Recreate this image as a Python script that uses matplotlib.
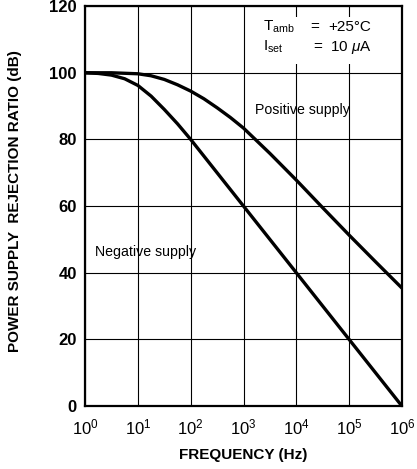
import numpy as np
import matplotlib.pyplot as plt
from matplotlib.patches import Rectangle

plt.rcParams['font.family'] = ['Liberation Sans', 'DejaVu Sans']
plt.rcParams['mathtext.fontset'] = 'custom'
plt.rcParams['mathtext.rm'] = 'Liberation Sans'
plt.rcParams['mathtext.it'] = 'Liberation Sans:italic'

# log10 of frequency (Hz) and PSRR (dB)
neg_logf = [0, 0.25, 0.5, 0.75, 1, 1.25, 1.5, 1.75, 2, 2.5, 3, 3.5, 4, 4.5, 5, 5.5, 6]
neg_psrr = [100, 99.8, 99.3, 98.2, 96.2, 93.0, 89.0, 84.7, 80, 70, 60, 50, 40, 30, 20, 10, 0]

pos_logf = [0, 0.5, 1, 1.25, 1.5, 1.75, 2, 2.25, 2.5, 2.75, 3, 3.5, 4, 4.5, 5, 5.5, 6]
pos_psrr = [100, 100, 99.7, 99.1, 98.0, 96.4, 94.5, 92.2, 89.5, 86.6, 83.4, 75.8, 67.8, 59.5, 51.3, 43.3, 35.4]

y_ticks = [0, 20, 40, 60, 80, 100, 120]
x_ticks = [1e0, 1e1, 1e2, 1e3, 1e4, 1e5, 1e6]

fig = plt.figure(figsize=(4.17, 4.69), dpi=100)
ax = fig.add_axes([0.204, 0.134, 0.76, 0.853])

ax.plot(10 ** np.array(neg_logf), neg_psrr, color='black', lw=2.4, solid_capstyle='butt', zorder=3)
ax.plot(10 ** np.array(pos_logf), pos_psrr, color='black', lw=2.4, solid_capstyle='butt', zorder=3)

ax.set_xscale('log')
ax.set_xlim(1, 1e6)
ax.set_ylim(0, 120)
ax.set_xticks(x_ticks)
ax.set_yticks(y_ticks)
ax.minorticks_off()
ax.set_xticklabels([r'$10^{%d}$' % i for i in range(7)], fontsize=12)
ax.set_yticklabels([str(v) for v in y_ticks], fontsize=12, fontweight='bold')
ax.tick_params(axis='x', length=0, pad=8.5)
ax.tick_params(axis='y', length=0, pad=6)
ax.grid(True, color='black', lw=0.8)
ax.set_axisbelow(True)
for s in ax.spines.values():
    s.set_linewidth(1.6)
    s.set_zorder(4)

# white panel behind the conditions text
ax.add_patch(Rectangle((10 ** 3.27, 102.5), 10 ** 5.97 - 10 ** 3.27, 14.2,
                       facecolor='white', edgecolor='none', zorder=1))

ax.text(10 ** 3.22, 87.6, 'Positive supply', fontsize=10.2, zorder=5)
ax.text(10 ** 0.19, 45.0, 'Negative supply', fontsize=10.2, zorder=5)

ax.text(10 ** 3.37, 112.6, r'T$_{\rm amb}$', fontsize=11, zorder=5)
ax.text(10 ** 4.26, 112.6, '=', fontsize=11, zorder=5)
ax.text(10 ** 4.60, 112.6, '+25°C', fontsize=11, zorder=5)
ax.text(10 ** 3.37, 106.6, r'I$_{\rm set}$', fontsize=11, zorder=5)
ax.text(10 ** 4.32, 106.6, '=', fontsize=11, zorder=5)
ax.text(10 ** 4.64, 106.6, r'10 $\mu$A', fontsize=11, zorder=5)

fig.text(0.583, 0.03, 'FREQUENCY (Hz)', ha='center', va='center', fontsize=11, fontweight='bold')
fig.text(0.036, 0.571, 'POWER SUPPLY  REJECTION RATIO (dB)', ha='center', va='center',
         rotation=90, fontsize=11, fontweight='bold')

fig.savefig('out.png', dpi=100)
